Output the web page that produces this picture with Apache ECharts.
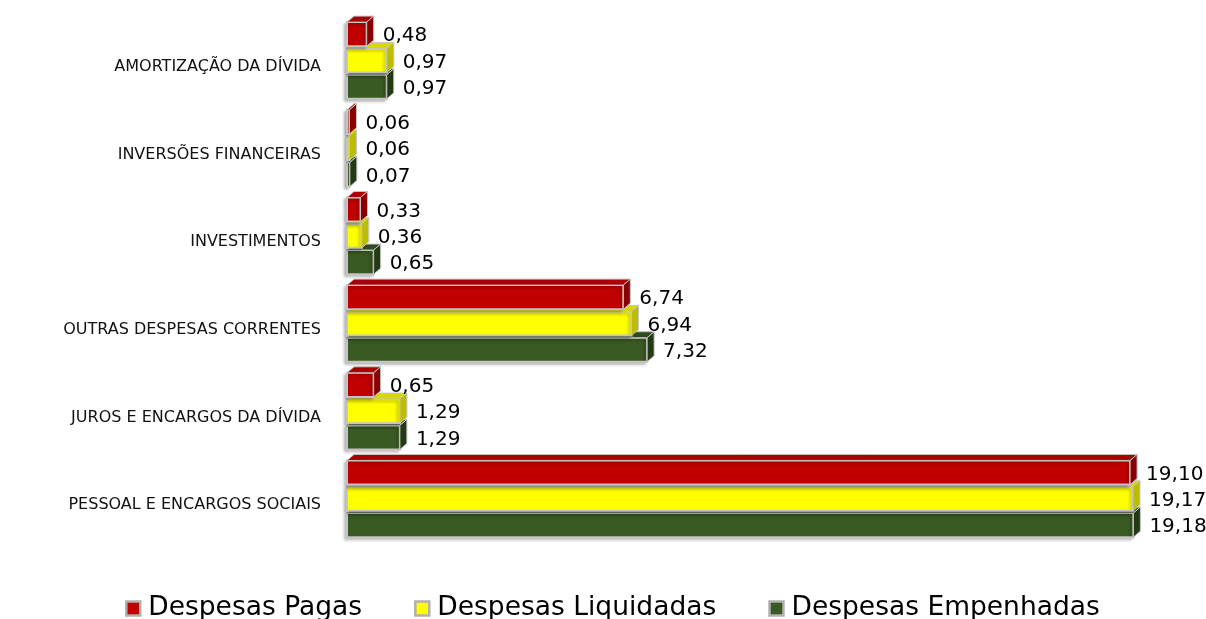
<!DOCTYPE html>
<html>
<head>
<meta charset="utf-8">
<script src="https://cdn.jsdelivr.net/npm/echarts@6/dist/echarts.min.js"></script>
<style>
html,body{margin:0;padding:0;background:#fff;}
#chart{width:1206px;height:619px;}
</style>
</head>
<body>
<div id="chart"></div>
<script>
const categories = ['PESSOAL E ENCARGOS SOCIAIS','JUROS E ENCARGOS DA DÍVIDA','OUTRAS DESPESAS CORRENTES','INVESTIMENTOS','INVERSÕES FINANCEIRAS','AMORTIZAÇÃO DA DÍVIDA'];
const seriesNames = ['Despesas Pagas','Despesas Liquidadas','Despesas Empenhadas'];
const pagas      = [19.10, 0.65, 6.74, 0.33, 0.06, 0.48];
const liquidadas = [19.17, 1.29, 6.94, 0.36, 0.06, 0.97];
const empenhadas = [19.18, 1.29, 7.32, 0.65, 0.07, 0.97];

const FONT = 'DejaVu Sans';
const palettes = [
  {front:'#C00000', top:'#A80000', side:'#8A0000'},
  {front:'#FFFF00', top:'#D8D800', side:'#BDBD00'},
  {front:'#3A5A23', top:'#2F4A1C', side:'#243A15'}
];
const DX = 7, DY = 6;

function makeRender(slot){
  const pal = palettes[slot];
  return function(params, api){
    const v = api.value(0), ci = api.value(1);
    const p0 = api.coord([0, ci]);
    const p1 = api.coord([v, ci]);
    const band = api.size([0, 1])[1];
    const x0 = p0[0], x1 = p1[0], cy = p0[1];
    const yt = cy + band * (-0.51 + slot * 0.3);
    const h = band * 0.275;
    const yb = yt + h;
    const txt = v.toFixed(2).replace('.', ',');
    return {
      type:'group',
      children:[
        {type:'rect', shape:{x:x0, y:yt, width:Math.max(x1-x0,1), height:h},
         style:{fill:pal.front, stroke:'#c4c4c4', lineWidth:2,
                shadowColor:'rgba(0,0,0,0.25)', shadowBlur:3, shadowOffsetX:-2, shadowOffsetY:2}},
        {type:'polygon', shape:{points:[[x0,yt],[x0+DX,yt-DY],[x1+DX,yt-DY],[x1,yt]]},
         style:{fill:pal.top, stroke:'#c4c4c4', lineWidth:1}},
        {type:'polygon', shape:{points:[[x1,yt],[x1+DX,yt-DY],[x1+DX,yb-DY],[x1,yb]]},
         style:{fill:pal.side, stroke:'#c4c4c4', lineWidth:1}},
        {type:'text', x:x1+16, y:(yt+yb)/2+2,
         style:{text:txt, fill:'#000', font:'20px "'+FONT+'"', verticalAlign:'middle', align:'left'}}
      ]
    };
  };
}

const seriesData = [pagas, liquidadas, empenhadas];
const series = [2,1,0].map(slot => ({
  type:'custom',
  name: seriesNames[slot],
  renderItem: makeRender(slot),
  clip:false,
  z: 10 - slot,
  itemStyle:{color: palettes[slot].front},
  encode:{x:0, y:1},
  data: seriesData[slot].map((v,i) => [v, i])
}));

const chart = echarts.init(document.getElementById('chart'));
chart.setOption({
  animation:false,
  backgroundColor:'#fff',
  grid:{left:347, right:39, top:23, bottom:70, containLabel:false},
  xAxis:{type:'value', min:0, max:20, show:false},
  yAxis:{type:'category', data:categories,
    axisLine:{show:false}, axisTick:{show:false}, splitLine:{show:false},
    axisLabel:{fontFamily:FONT, fontSize:16, color:'#111', margin:26, padding:[3,0,0,0]}},
  legend:{
    data: seriesNames,
    top:590, left:120,
    icon:'rect', itemWidth:14, itemHeight:14, itemGap:52,
    itemStyle:{borderColor:'#b0b0b0', borderWidth:2.5},
    textStyle:{fontFamily:FONT, fontSize:26.5, color:'#000', padding:[0,0,0,3]}
  },
  series: series
});
</script>
</body>
</html>
